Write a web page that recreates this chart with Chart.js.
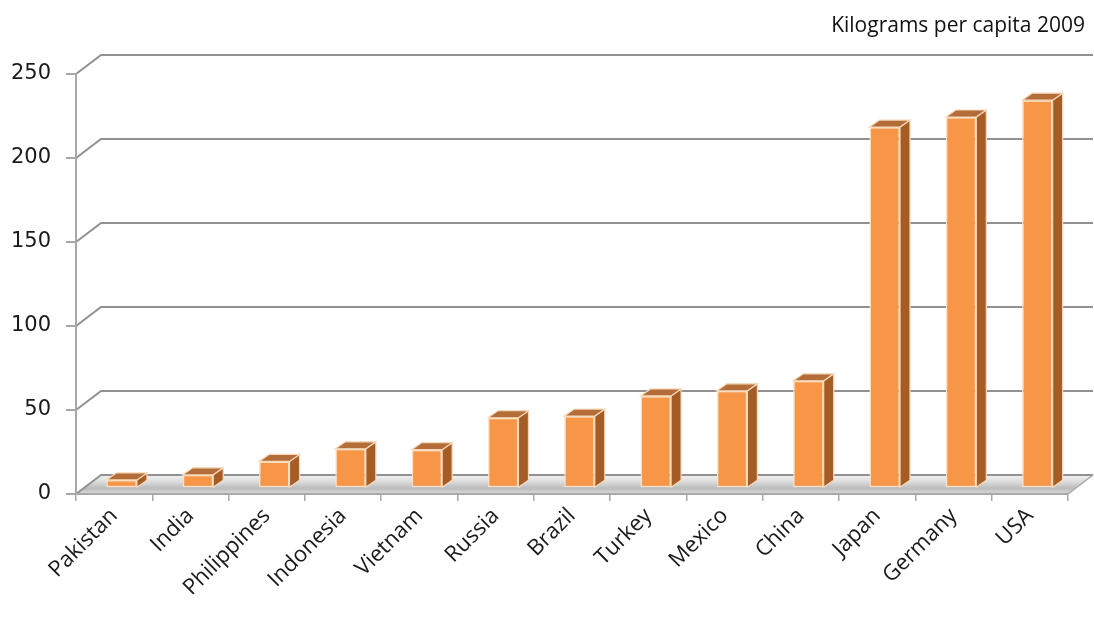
<!DOCTYPE html>
<html>
<head>
<meta charset="utf-8">
<title>Kilograms per capita 2009</title>
<script src="https://cdn.jsdelivr.net/npm/chart.js@4.4.1/dist/chart.umd.min.js"></script>
<style>
  html, body { margin: 0; padding: 0; background: #fff; }
  #wrap { width: 1094px; height: 621px; }
</style>
</head>
<body>
<div id="wrap"><canvas id="kgChart" width="1094" height="621"></canvas></div>
<script>
// Countries, lowest to highest
const countries = ['Pakistan', 'India', 'Philippines', 'Indonesia', 'Vietnam', 'Russia',
  'Brazil', 'Turkey', 'Mexico', 'China', 'Japan', 'Germany', 'USA'];
const kgPerCapita = [5, 8, 16, 23.5, 23, 42, 43, 55, 58, 64, 215, 221, 231];
const axisMax = 250;
const axisStep = 50;
const chartNote = 'Kilograms per capita 2009';

// fake 3D: oblique depth of the wall/floor box and of each column
const wallDX = 25, wallDY = 19;
const barShiftX = 7.5, barShiftY = 5.7;   // columns sit a bit behind the front edge
const barDX = 10, barDY = 7;

const gridGray = '#919191';
const edgeGray = '#a8a8a8';

function poly(ctx, pts, fill, stroke, lw) {
    ctx.beginPath();
    ctx.moveTo(pts[0][0], pts[0][1]);
    for (let i = 1; i < pts.length; i++) ctx.lineTo(pts[i][0], pts[i][1]);
    ctx.closePath();
    if (fill) { ctx.fillStyle = fill; ctx.fill(); }
    if (stroke) { ctx.strokeStyle = stroke; ctx.lineWidth = lw || 1; ctx.stroke(); }
}

// back wall, grid lines and floor, drawn before the scales
const boxPlugin = {
    id: 'box3d',
    beforeDraw(chart) {
        const ctx = chart.ctx;
        const area = chart.chartArea;
        const yScale = chart.scales.y;
        ctx.save();
        ctx.fillStyle = '#fff';
        ctx.fillRect(0, 0, chart.width, chart.height);

        // floor
        const yf = yScale.getPixelForValue(0);
        const floor = [[area.left, yf], [area.left + wallDX, yf - wallDY],
            [area.right + wallDX, yf - wallDY], [area.right, yf]];
        const g = ctx.createLinearGradient(0, yf - wallDY, 0, yf);
        g.addColorStop(0, '#f2f2f2');
        g.addColorStop(0.35, '#dcdcdc');
        g.addColorStop(0.7, '#bcbcbc');
        g.addColorStop(1, '#dadada');
        poly(ctx, floor, g, null);

        // wall grid lines: diagonal off the value axis, then across the back
        ctx.strokeStyle = gridGray;
        ctx.lineWidth = 2;
        for (let v = 0; v <= axisMax; v += axisStep) {
            const y = yScale.getPixelForValue(v);
            ctx.beginPath();
            ctx.moveTo(area.left, y);
            ctx.lineTo(area.left + wallDX, y - wallDY);
            ctx.lineTo(area.right + wallDX, y - wallDY);
            ctx.stroke();
        }

        // right edge of the floor
        ctx.strokeStyle = edgeGray;
        ctx.lineWidth = 1.5;
        ctx.beginPath();
        ctx.moveTo(area.right, yf);
        ctx.lineTo(area.right + wallDX, yf - wallDY);
        ctx.stroke();
        ctx.restore();
    },
    beforeDatasetsDraw(chart) {
        chart.ctx.save();
        chart.ctx.translate(barShiftX, -barShiftY);
    },
    afterDatasetsDraw(chart) {
        const ctx = chart.ctx;
        const meta = chart.getDatasetMeta(0);
        meta.data.forEach(bar => {
            const p = bar.getProps(['x', 'y', 'base', 'width'], true);
            const l = p.x - p.width / 2, r = p.x + p.width / 2;
            // side face
            poly(ctx, [[r, p.y], [r + barDX, p.y - barDY], [r + barDX, p.base - barDY], [r, p.base]],
                '#a65d25', '#f6d9bb', 1.2);
            // top face
            poly(ctx, [[l, p.y], [l + barDX, p.y - barDY], [r + barDX, p.y - barDY], [r, p.y]],
                '#b46d38', '#f6d9bb', 1.2);
        });
        ctx.restore();
    },
    afterDraw(chart) {
        const ctx = chart.ctx;
        ctx.save();
        ctx.font = '21px "Open Sans"';
        ctx.fillStyle = '#111';
        ctx.textAlign = 'right';
        ctx.textBaseline = 'middle';
        ctx.fillText(chartNote, 1085, 26);
        ctx.restore();
    }
};

new Chart(document.getElementById('kgChart'), {
    type: 'bar',
    data: {
        labels: countries,
        datasets: [{
            data: kgPerCapita,
            backgroundColor: '#f79646',
            borderColor: '#fbe0c4',
            borderWidth: 1.5,
            borderSkipped: false,
            barPercentage: 0.4,
            categoryPercentage: 1
        }]
    },
    options: {
        responsive: false,
        animation: false,
        devicePixelRatio: 1,
        layout: { padding: { top: 74, right: 26, left: 0, bottom: 0 } },
        plugins: {
            legend: { display: false },
            title: { display: false },
            tooltip: { enabled: false }
        },
        scales: {
            x: {
                afterFit(s) { s.height = 127; },
                grid: { drawOnChartArea: false, drawTicks: true, tickLength: 7, color: edgeGray, lineWidth: 1.5 },
                border: { display: true, color: edgeGray, width: 2 },
                ticks: {
                    autoSkip: false,
                    minRotation: 45,
                    maxRotation: 45,
                    padding: 2,
                    color: '#1a1a1a',
                    font: { family: 'Open Sans', size: 22 }
                }
            },
            y: {
                min: 0,
                max: axisMax,
                afterFit(s) { s.width = 76; },
                grid: { drawOnChartArea: false, drawTicks: true, tickLength: 10, color: edgeGray, lineWidth: 2 },
                border: { display: true, color: edgeGray, width: 2 },
                ticks: {
                    stepSize: axisStep,
                    padding: 15,
                    color: '#1a1a1a',
                    font: { family: 'DejaVu Sans', size: 21 }
                }
            }
        }
    },
    plugins: [boxPlugin]
});
</script>
</body>
</html>
